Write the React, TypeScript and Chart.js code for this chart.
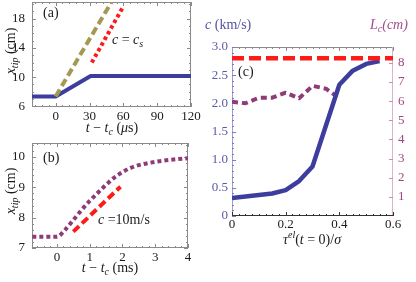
import { useEffect, useRef } from "react";
import { Chart, registerables } from "chart.js";
Chart.register(...registerables);

const FONT = '"Liberation Serif", "DejaVu Serif", serif';

// ---------- Panel (a) ----------
const aBlueX = [-21, 0, 31, 120];
const aBlueY = [7.35, 7.35, 10.15, 10.15];
const aOliveX = [0, 49.5];
const aOliveY = [7.35, 20.3];
const aRedX = [32, 60];
const aRedY = [12.0, 19.7];
const aXTicks = [0, 30, 60, 90, 120];
const aYTicks = [6, 10, 14, 18];

// ---------- Panel (b) ----------
const bPurpleX = [-0.75, 0, 0.25, 0.5, 0.75, 1.0, 1.25, 1.5, 1.75, 2.0, 2.25, 2.5, 3.0, 3.5, 4.0];
const bPurpleY = [7.37, 7.37, 7.6, 7.92, 8.25, 8.55, 8.82, 9.08, 9.32, 9.5, 9.64, 9.73, 9.84, 9.91, 9.96];
const bRedX = [0.5, 1.94];
const bRedY = [7.54, 9.02];
const bXTicks = [0, 1, 2, 3, 4];
const bYTicks = [7, 8, 9, 10];

// ---------- Panel (c) ----------
const cTau = [0, 0.15, 0.2, 0.25, 0.3, 0.4, 0.45, 0.5, 0.55];
const cSpeed = [0.32, 0.4, 0.46, 0.62, 0.88, 2.33, 2.58, 2.7, 2.75];
const cLTau = [0, 0.05, 0.1, 0.15, 0.2, 0.25, 0.3, 0.35, 0.4];
const cLength = [5.97, 5.89, 6.18, 6.18, 6.44, 6.15, 6.8, 6.65, 6.15];
const cShearX = [0, 0.6];
const cShearY = [2.8, 2.8];
const cXTicks = [0, 0.2, 0.4, 0.6];
const cXTickLabels = ["0", "0.2", "0.4", "0.6"];
const cYTicks = [0, 0.5, 1, 1.5, 2, 2.5, 3];
const cYTickLabels = ["0", "0.5", "1.0", "1.5", "2.0", "2.5", "3.0"];
const cY2Ticks = [1, 2, 3, 4, 5, 6, 7, 8];

const BLUE = "#3d3d9e";
const OLIVE = "#a39a52";
const RED = "#ff1a1a";
const PURPLE = "#8e3b78";
const FRAME = "#8a8a8a";
const TXT = "#1a1a1a";

type Seg = { t: string; i?: boolean; sub?: boolean; sup?: boolean };

function drawRich(
  ctx: CanvasRenderingContext2D,
  segs: Seg[],
  x: number,
  y: number,
  size: number,
  color: string,
  align: "left" | "center" | "right",
  rot = 0
) {
  ctx.save();
  ctx.translate(x, y);
  ctx.rotate(rot);
  const fontFor = (s: Seg) =>
    `${s.i ? "italic " : ""}${s.sub || s.sup ? Math.round(size * 0.7) : size}px ${FONT}`;
  let w = 0;
  for (const s of segs) {
    ctx.font = fontFor(s);
    w += ctx.measureText(s.t).width;
  }
  let cx = align === "left" ? 0 : align === "center" ? -w / 2 : -w;
  ctx.textBaseline = "middle";
  ctx.textAlign = "left";
  ctx.fillStyle = color;
  for (const s of segs) {
    ctx.font = fontFor(s);
    const dy = s.sub ? size * 0.3 : s.sup ? -size * 0.35 : 0;
    ctx.fillText(s.t, cx, dy);
    cx += ctx.measureText(s.t).width;
  }
  ctx.restore();
}

function minorValues(min: number, max: number, step: number) {
  const out: number[] = [];
  const start = Math.ceil(min / step - 1e-9);
  const end = Math.floor(max / step + 1e-9);
  for (let k = start; k <= end; k++) out.push(k * step);
  return out;
}

function tickX(ctx: CanvasRenderingContext2D, scale: any, vals: number[], yEdge: number, len: number) {
  for (const v of vals) {
    const px = Math.round(scale.getPixelForValue(v)) + 0.5;
    ctx.beginPath();
    ctx.moveTo(px, yEdge);
    ctx.lineTo(px, yEdge + len);
    ctx.stroke();
  }
}
function tickY(ctx: CanvasRenderingContext2D, scale: any, vals: number[], xEdge: number, len: number) {
  for (const v of vals) {
    const py = Math.round(scale.getPixelForValue(v)) + 0.5;
    ctx.beginPath();
    ctx.moveTo(xEdge, py);
    ctx.lineTo(xEdge + len, py);
    ctx.stroke();
  }
}

function series(xs: number[], ys: number[], color: string, width: number, dash: number[], extra: any = {}) {
  return {
    data: xs.map((x, i) => ({ x, y: ys[i] })),
    borderColor: color,
    backgroundColor: color,
    borderWidth: width,
    borderDash: dash,
    pointRadius: 0,
    fill: false,
    tension: 0,
    clip: 0,
    borderCapStyle: "butt",
    borderJoinStyle: "round",
    ...extra,
  };
}

function baseOptions(pad: any, scales: any) {
  return {
    responsive: false,
    animation: false,
    devicePixelRatio: 1,
    events: [],
    layout: { padding: pad },
    plugins: { legend: { display: false }, tooltip: { enabled: false } },
    scales,
  };
}

type BoxSpec = {
  xTicks: number[];
  yTicks: number[];
  xMinor: number;
  yMinor: number;
  xLabels: string[];
  yLabels: string[];
  texts: (ctx: CanvasRenderingContext2D, ca: any) => void;
};

function boxPlugin(spec: BoxSpec) {
  return {
    id: "box",
    beforeDatasetsDraw(chart: any) {
      const ctx = chart.ctx as CanvasRenderingContext2D;
      const ca = chart.chartArea;
      const xs = chart.scales.x;
      const ys = chart.scales.y;
      ctx.save();
      ctx.strokeStyle = FRAME;
      ctx.lineWidth = 1;
      ctx.strokeRect(ca.left + 0.5, ca.top + 0.5, ca.right - ca.left - 1, ca.bottom - ca.top - 1);
      const xm = minorValues(xs.min, xs.max, spec.xMinor);
      const ym = minorValues(ys.min, ys.max, spec.yMinor);
      tickX(ctx, xs, xm, ca.bottom, -2);
      tickX(ctx, xs, xm, ca.top, 2);
      tickX(ctx, xs, spec.xTicks, ca.bottom, -4);
      tickX(ctx, xs, spec.xTicks, ca.top, 4);
      tickY(ctx, ys, ym, ca.left, 2);
      tickY(ctx, ys, ym, ca.right, -2);
      tickY(ctx, ys, spec.yTicks, ca.left, 4);
      tickY(ctx, ys, spec.yTicks, ca.right, -4);
      ctx.restore();
    },
    afterDraw(chart: any) {
      const ctx = chart.ctx as CanvasRenderingContext2D;
      const ca = chart.chartArea;
      const xs = chart.scales.x;
      const ys = chart.scales.y;
      spec.xTicks.forEach((v, i) =>
        drawRich(ctx, [{ t: spec.xLabels[i] }], xs.getPixelForValue(v), ca.bottom + 10, 13, TXT, "center")
      );
      spec.yTicks.forEach((v, i) =>
        drawRich(ctx, [{ t: spec.yLabels[i] }], ca.left - 7, ys.getPixelForValue(v), 13, TXT, "right")
      );
      spec.texts(ctx, ca);
    },
  };
}

function configA() {
  return {
    type: "line",
    data: {
      datasets: [
        series(aRedX, aRedY, RED, 4, [3.5, 3]),
        series(aOliveX, aOliveY, OLIVE, 4, [8, 4]),
        series(aBlueX, aBlueY, BLUE, 4, []),
      ],
    },
    options: baseOptions(
      { left: 32, top: 2, right: 17, bottom: 33 },
      {
        x: { type: "linear", display: false, min: -21, max: 120 },
        y: { type: "linear", display: false, min: 5.9, max: 20.3 },
      }
    ),
    plugins: [
      boxPlugin({
        xTicks: aXTicks,
        yTicks: aYTicks,
        xMinor: 6,
        yMinor: 1,
        xLabels: aXTicks.map(String),
        yLabels: aYTicks.map(String),
        texts: (ctx) => {
          drawRich(ctx, [{ t: "(a)" }], 43, 13, 14, TXT, "left");
          drawRich(ctx, [{ t: "c", i: true }, { t: " = " }, { t: "c", i: true }, { t: "s", i: true, sub: true }], 112, 40, 14, TXT, "left");
          drawRich(
            ctx,
            [{ t: "t", i: true }, { t: " − " }, { t: "t", i: true }, { t: "c", i: true, sub: true }, { t: " (" }, { t: "μ", i: true }, { t: "s)" }],
            112, 128, 14, TXT, "center"
          );
          drawRich(ctx, [{ t: "x", i: true }, { t: "tip", i: true, sub: true }, { t: " (cm)" }], 11, 51, 14, TXT, "center", -Math.PI / 2);
        },
      }),
    ],
  };
}

function configB() {
  return {
    type: "line",
    data: {
      datasets: [
        series(bRedX, bRedY, RED, 4, [8, 4]),
        series(bPurpleX, bPurpleY, PURPLE, 4, [4, 3], { cubicInterpolationMode: "monotone" }),
      ],
    },
    options: baseOptions(
      { left: 32, top: 3, right: 20, bottom: 34 },
      {
        x: { type: "linear", display: false, min: -0.76, max: 4 },
        y: { type: "linear", display: false, min: 7, max: 10.46 },
      }
    ),
    plugins: [
      boxPlugin({
        xTicks: bXTicks,
        yTicks: bYTicks,
        xMinor: 0.2,
        yMinor: 0.2,
        xLabels: bXTicks.map(String),
        yLabels: bYTicks.map(String),
        texts: (ctx) => {
          drawRich(ctx, [{ t: "(b)" }], 43, 18, 14, TXT, "left");
          drawRich(ctx, [{ t: "c", i: true }, { t: " =10m/s" }], 98, 80, 14, TXT, "left");
          drawRich(
            ctx,
            [{ t: "t", i: true }, { t: " − " }, { t: "t", i: true }, { t: "c", i: true, sub: true }, { t: " (ms)" }],
            110, 128, 14, TXT, "center"
          );
          drawRich(ctx, [{ t: "x", i: true }, { t: "tip", i: true, sub: true }, { t: " (cm)" }], 11, 51, 14, TXT, "center", -Math.PI / 2);
        },
      }),
    ],
  };
}

const C_LEFT_TXT = "#5a5aa8";
const C_RIGHT_TXT = "#a0477f";

function configC() {
  const plugin = {
    id: "cbox",
    beforeDatasetsDraw(chart: any) {
      const ctx = chart.ctx as CanvasRenderingContext2D;
      const ca = chart.chartArea;
      const xs = chart.scales.x;
      const ys = chart.scales.y;
      const y2 = chart.scales.y2;
      ctx.save();
      ctx.lineWidth = 1;
      ctx.strokeStyle = FRAME;
      ctx.beginPath();
      ctx.moveTo(ca.left, ca.top + 0.5);
      ctx.lineTo(ca.right, ca.top + 0.5);
      ctx.stroke();
      const xm = minorValues(xs.min, xs.max, 0.025);
      tickX(ctx, xs, xm, ca.top, 2);
      tickX(ctx, xs, cXTicks, ca.top, 4);
      ctx.strokeStyle = "#9d9dd2";
      ctx.beginPath();
      ctx.moveTo(ca.left + 0.5, ca.top);
      ctx.lineTo(ca.left + 0.5, ca.bottom);
      ctx.stroke();
      ctx.strokeStyle = "#7b7bc0";
      tickY(ctx, ys, minorValues(ys.min, ys.max, 0.1), ca.left, 2);
      tickY(ctx, ys, cYTicks, ca.left, 4);
      ctx.strokeStyle = "#dcb3cc";
      ctx.beginPath();
      ctx.moveTo(ca.right - 0.5, ca.top);
      ctx.lineTo(ca.right - 0.5, ca.bottom);
      ctx.stroke();
      ctx.strokeStyle = "#c98db2";
      tickY(ctx, y2, cY2Ticks, ca.right, -4);
      ctx.strokeStyle = "#333";
      ctx.beginPath();
      ctx.moveTo(ca.left, ca.bottom - 0.5);
      ctx.lineTo(ca.right, ca.bottom - 0.5);
      ctx.stroke();
      tickX(ctx, xs, xm, ca.bottom, -2);
      tickX(ctx, xs, cXTicks, ca.bottom, -4);
      ctx.restore();
    },
    afterDraw(chart: any) {
      const ctx = chart.ctx as CanvasRenderingContext2D;
      const ca = chart.chartArea;
      const xs = chart.scales.x;
      const ys = chart.scales.y;
      const y2 = chart.scales.y2;
      cXTicks.forEach((v, i) =>
        drawRich(ctx, [{ t: cXTickLabels[i] }], xs.getPixelForValue(v), ca.bottom + 9, 13, TXT, "center")
      );
      cYTicks.forEach((v, i) =>
        drawRich(ctx, [{ t: cYTickLabels[i] }], ca.left - 4, ys.getPixelForValue(v), 13, C_LEFT_TXT, "right")
      );
      cY2Ticks.forEach((v) =>
        drawRich(ctx, [{ t: String(v) }], ca.right + 5, y2.getPixelForValue(v), 13, C_RIGHT_TXT, "left")
      );
      drawRich(ctx, [{ t: "(c)" }], 42, 72, 14, TXT, "left");
      drawRich(ctx, [{ t: "c", i: true }, { t: " (km/s)" }], 9, 25, 14, "#5252a2", "left");
      drawRich(ctx, [{ t: "L", i: true }, { t: "c", i: true, sub: true }, { t: "(cm)", i: true }], 174, 25, 14, "#a34d8c", "left");
      drawRich(
        ctx,
        [{ t: "τ", i: true }, { t: "el", i: true, sup: true }, { t: "(" }, { t: "t", i: true }, { t: " = 0)/" }, { t: "σ", i: true }],
        116, 240, 14, TXT, "center"
      );
    },
  };
  return {
    type: "line",
    data: {
      datasets: [
        series(cShearX, cShearY, RED, 4.5, [12, 5]),
        series(cTau, cSpeed, BLUE, 4.5, []),
        series(cLTau, cLength, PURPLE, 4, [6, 4], { yAxisID: "y2" }),
      ],
    },
    options: baseOptions(
      { left: 36, top: 47, right: 23, bottom: 66 },
      {
        x: { type: "linear", display: false, min: 0, max: 0.6 },
        y: { type: "linear", display: false, min: 0, max: 3 },
        y2: { type: "linear", display: false, position: "right", min: 0, max: 8.83 },
      }
    ),
    plugins: [plugin],
  };
}

function Panel(props: { left: number; top: number; width: number; height: number; build: () => any }) {
  const ref = useRef<HTMLCanvasElement>(null);
  useEffect(() => {
    const chart = new Chart(ref.current as HTMLCanvasElement, props.build());
    return () => chart.destroy();
  }, []);
  return (
    <canvas
      ref={ref}
      width={props.width}
      height={props.height}
      style={{ position: "absolute", left: props.left, top: props.top, width: props.width, height: props.height }}
    />
  );
}

export default function App() {
  return (
    <div style={{ position: "fixed", left: 0, top: 0, width: 416, height: 282, background: "#fff", overflow: "hidden" }}>
      <Panel left={0} top={0} width={208} height={140} build={configA} />
      <Panel left={0} top={140} width={208} height={142} build={configB} />
      <Panel left={196} top={0} width={220} height={282} build={configC} />
    </div>
  );
}
